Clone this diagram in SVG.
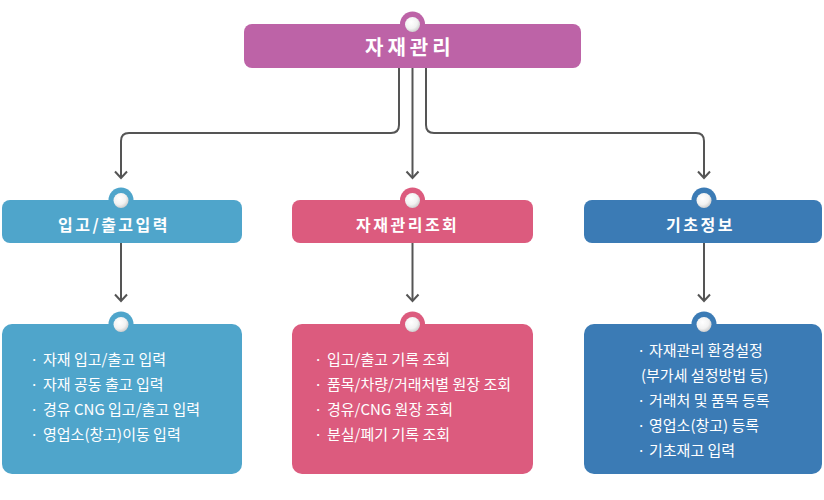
<svg xmlns="http://www.w3.org/2000/svg" width="824" height="500" viewBox="0 0 824 500">
<style>
.t1{font-family:"Noto Sans CJK KR","Noto Sans",sans-serif;font-weight:bold;fill:#fff}
.t3{font-family:"Noto Sans CJK KR","Noto Sans",sans-serif;font-size:15px;fill:#fff}
.con{fill:none;stroke:#555;stroke-width:2}
.knobIn{fill:url(#kg)}
</style>
<defs>
<radialGradient id="kg" cx="0.4" cy="0.35" r="0.7">
<stop offset="0" stop-color="#ffffff"/>
<stop offset="0.6" stop-color="#f2f2f2"/>
<stop offset="1" stop-color="#c8c8c8"/>
</radialGradient>
<marker id="arr" markerWidth="16" markerHeight="16" refX="8" refY="8" orient="auto" markerUnits="userSpaceOnUse">
<path d="M1.5,2 L8,8 L1.5,14" fill="none" stroke="#555" stroke-width="2"/>
</marker>
</defs>
<rect width="824" height="500" fill="#fff"/>

<g id="connectors">
<path class="con" marker-end="url(#arr)" d="M399,68 V125 Q399,133 391,133 H129 Q121,133 121,141 V178"/>
<path class="con" marker-end="url(#arr)" d="M412.5,68 V178"/>
<path class="con" marker-end="url(#arr)" d="M426,68 V125 Q426,133 434,133 H696 Q704,133 704,141 V178"/>
<path class="con" marker-end="url(#arr)" d="M121,243 V301"/>
<path class="con" marker-end="url(#arr)" d="M412.5,243 V301"/>
<path class="con" marker-end="url(#arr)" d="M704,243 V301"/>
</g>

<g id="root">
<circle cx="412.5" cy="24" r="12.5" fill="#BD63A7"/>
<rect x="244" y="24" width="337" height="44" rx="8" fill="#BD63A7"/>
<circle class="knobIn" cx="412.5" cy="24.5" r="7.5"/>
<text class="t1" x="365" y="55" font-size="20" letter-spacing="4">자재관리</text>
</g>

<g id="inout">
<circle cx="121" cy="200" r="12.5" fill="#4FA5CB"/>
<rect x="2" y="200" width="240" height="43" rx="8" fill="#4FA5CB"/>
<circle class="knobIn" cx="121" cy="200.5" r="7.5"/>
<text class="t1" x="58" y="231" font-size="16" letter-spacing="2.5">입고/출고입력</text>
</g>

<g id="lookup">
<circle cx="412.5" cy="200" r="12.5" fill="#DC5B7E"/>
<rect x="292" y="200" width="241" height="43" rx="8" fill="#DC5B7E"/>
<circle class="knobIn" cx="412.5" cy="200.5" r="7.5"/>
<text class="t1" x="356" y="231" font-size="16" letter-spacing="2.5">자재관리조회</text>
</g>

<g id="basic">
<circle cx="704" cy="200" r="12.5" fill="#3B7BB5"/>
<rect x="584" y="200" width="238" height="43" rx="8" fill="#3B7BB5"/>
<circle class="knobIn" cx="704" cy="200.5" r="7.5"/>
<text class="t1" x="666" y="231" font-size="16" letter-spacing="2.5">기초정보</text>
</g>

<g id="inout-detail">
<circle cx="121" cy="324" r="12.5" fill="#4FA5CB"/>
<rect x="2" y="324" width="240" height="150" rx="10" fill="#4FA5CB"/>
<circle class="knobIn" cx="121" cy="324.5" r="7.5"/>
<text class="t3" y="365"><tspan x="30">·</tspan><tspan x="43">자재 입고/출고 입력</tspan></text>
<text class="t3" y="390"><tspan x="30">·</tspan><tspan x="43">자재 공동 출고 입력</tspan></text>
<text class="t3" y="415"><tspan x="30">·</tspan><tspan x="43">경유 CNG 입고/출고 입력</tspan></text>
<text class="t3" y="440"><tspan x="30">·</tspan><tspan x="43">영업소(창고)이동 입력</tspan></text>
</g>

<g id="lookup-detail">
<circle cx="412.5" cy="324" r="12.5" fill="#DC5B7E"/>
<rect x="292" y="324" width="241" height="150" rx="10" fill="#DC5B7E"/>
<circle class="knobIn" cx="412.5" cy="324.5" r="7.5"/>
<text class="t3" y="365"><tspan x="314">·</tspan><tspan x="327">입고/출고 기록 조회</tspan></text>
<text class="t3" y="390"><tspan x="314">·</tspan><tspan x="327">품목/차량/거래처별 원장 조회</tspan></text>
<text class="t3" y="415"><tspan x="314">·</tspan><tspan x="327">경유/CNG 원장 조회</tspan></text>
<text class="t3" y="440"><tspan x="314">·</tspan><tspan x="327">분실/폐기 기록 조회</tspan></text>
</g>

<g id="basic-detail">
<circle cx="704" cy="324" r="12.5" fill="#3B7BB5"/>
<rect x="584" y="324" width="238" height="150" rx="10" fill="#3B7BB5"/>
<circle class="knobIn" cx="704" cy="324.5" r="7.5"/>
<text class="t3" y="356"><tspan x="637">·</tspan><tspan x="649">자재관리 환경설정</tspan></text>
<text class="t3" y="381" x="641">(부가세 설정방법 등)</text>
<text class="t3" y="406"><tspan x="637">·</tspan><tspan x="649">거래처 및 품목 등록</tspan></text>
<text class="t3" y="431"><tspan x="637">·</tspan><tspan x="649">영업소(창고) 등록</tspan></text>
<text class="t3" y="456"><tspan x="637">·</tspan><tspan x="649">기초재고 입력</tspan></text>
</g>
</svg>
